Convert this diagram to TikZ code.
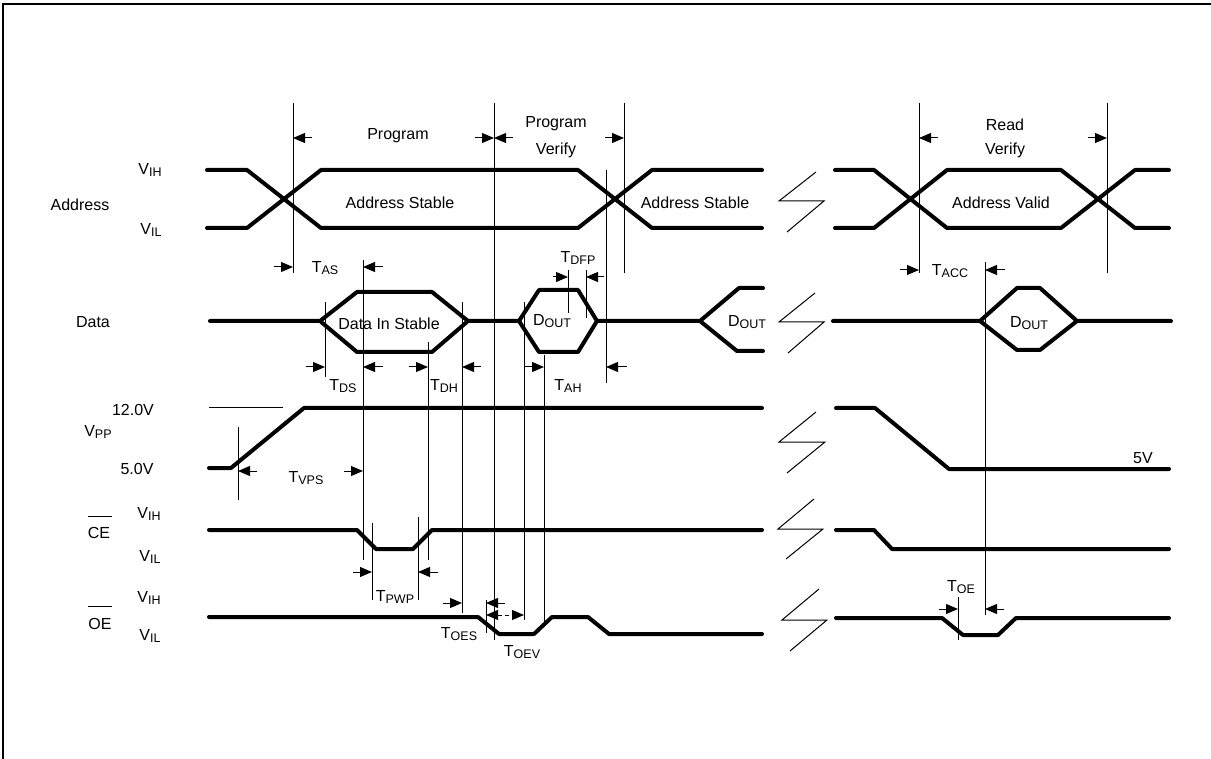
\documentclass[tikz,border=0pt]{standalone}
\usepackage{fontspec}
\setmainfont{Liberation Sans}
\usetikzlibrary{arrows.meta}
\newcommand\sbs[1]{\raisebox{-2.2pt}{\fontsize{12.5}{12.5}\selectfont #1}}
\begin{document}
\begin{tikzpicture}[x=1pt,y=-1pt,
  wave/.style={line width=4pt, line join=round, line cap=round},
  thinl/.style={line width=1pt},
  guide/.style={line width=0.9pt},
  tip/.style={-{Triangle[length=12pt,width=10pt]}, line width=1pt},
  dtip/.style={{Triangle[length=12pt,width=10pt]}-{Triangle[length=12pt,width=10pt]}, line width=1pt, dash pattern=on 4pt off 3pt},
  lbl/.style={font=\fontsize{16}{18}\selectfont, inner sep=0pt},
]
\useasboundingbox (0,0) rectangle (1211,759);
% frame
\draw[line width=2pt] (3,759) -- (3,4) -- (1211,4);

% ---------- Address ----------
\draw[wave] (207,170) -- (247,170) -- (321,228) -- (578,228) -- (652,170) -- (762,170);
\draw[wave] (207,228) -- (247,228) -- (321,170) -- (578,170) -- (652,228) -- (762,228);
\draw[wave] (835,170) -- (874,170) -- (947,228) -- (1061,228) -- (1135,170) -- (1169,170);
\draw[wave] (835,228) -- (874,228) -- (947,170) -- (1061,170) -- (1135,228) -- (1169,228);

% ---------- Data ----------
\draw[wave] (210,321) -- (320,321) -- (357,292) -- (432,292) -- (468,321) -- (519,321) -- (539,290) -- (578,290) -- (597,321) -- (700,321) -- (739,288) -- (763,288);
\draw[wave] (320,321) -- (357,352) -- (432,352) -- (468,321);
\draw[wave] (519,321) -- (539,352) -- (578,352) -- (597,321);
\draw[wave] (700,321) -- (737,351) -- (763,351);
\draw[wave] (833,321) -- (980,321) -- (1017,288) -- (1040,288) -- (1077,321) -- (1171,321);
\draw[wave] (980,321) -- (1017,350) -- (1040,350) -- (1077,321);

% ---------- Vpp ----------
\draw[thinl] (209,408) -- (283,408);
\draw[wave] (209,468) -- (231,468) -- (304,408) -- (762,408);
\draw[wave] (836,408) -- (875,408) -- (949,469) -- (1169,469);

% ---------- CE ----------
\draw[wave] (209,530) -- (357,530) -- (376,549) -- (413,549) -- (432,530) -- (762,530);
\draw[wave] (836,530) -- (874,530) -- (892,549) -- (1169,549);

% ---------- OE ----------
\draw[wave] (209,617) -- (478,617) -- (499,634) -- (534,634) -- (552,617) -- (588,617) -- (609,634) -- (762,634);
\draw[wave] (836,618) -- (942,618) -- (963,635) -- (998,635) -- (1016,618) -- (1169,618);

% ---------- break marks ----------
\draw[thinl] (816,172) -- (779,201) -- (824,201) -- (787,232);
\draw[thinl] (815,293) -- (779,322) -- (824,322) -- (788,353);
\draw[thinl] (816,412) -- (779,442) -- (825,442) -- (787,473);
\draw[thinl] (814,499) -- (778,529) -- (823,529) -- (786,559);
\draw[thinl] (819,589) -- (782,620) -- (827,620) -- (790,651);

% ---------- guide lines ----------
\draw[guide] (293,103) -- (293,273);
\draw[guide] (363,260) -- (363,560);
\draw[guide] (325,302) -- (325,377);
\draw[guide] (428,342) -- (428,560);
\draw[guide] (462,302) -- (462,613);
\draw[guide] (494,103) -- (494,640);
\draw[guide] (524,302) -- (524,620);
\draw[guide] (544,355) -- (544,625);
\draw[guide] (568,270) -- (568,313);
\draw[guide] (586,270) -- (586,318);
\draw[guide] (606,170) -- (606,383);
\draw[guide] (624,103) -- (624,273);
\draw[guide] (238,427) -- (238,500);
\draw[guide] (372,523) -- (372,600);
\draw[guide] (418,517) -- (418,600);
\draw[guide] (486,600) -- (486,633);
\draw[guide] (919,103) -- (919,273);
\draw[guide] (1107,103) -- (1107,273);
\draw[guide] (985,262) -- (985,615);
\draw[guide] (958,597) -- (958,640);

% ---------- arrows ----------
\draw[tip] (312,138) -- (293,138);
\draw[tip] (475,138) -- (494,138);
\draw[tip] (513,138) -- (494,138);
\draw[tip] (605,138) -- (624,138);
\draw[tip] (938,138) -- (919,138);
\draw[tip] (1088,138) -- (1107,138);
\draw[tip] (274,267) -- (293,267);
\draw[tip] (383,267) -- (363,267);
\draw[tip] (553,277) -- (568,277);
\draw[tip] (604,277) -- (586,277);
\draw[tip] (900,270) -- (919,270);
\draw[tip] (1005,270) -- (985,270);
\draw[tip] (306,367) -- (325,367);
\draw[tip] (383,367) -- (363,367);
\draw[tip] (409,367) -- (428,367);
\draw[tip] (481,367) -- (462,367);
\draw[tip] (525,367) -- (544,367);
\draw[tip] (627,367) -- (606,367);
\draw[tip] (257,471) -- (238,471);
\draw[tip] (344,471) -- (363,471);
\draw[tip] (353,572) -- (372,572);
\draw[tip] (438,572) -- (418,572);
\draw[tip] (443,603) -- (462,603);
\draw[tip] (505,603) -- (486,603);
\draw[dtip] (486,615) -- (524,615);
\draw[tip] (939,609) -- (958,609);
\draw[tip] (1004,609) -- (985,609);

% ---------- row labels ----------
\node[lbl] (addr) at (80,205) {Address};
\node[lbl] (avih) at (150,170) {V\sbs{IH}};
\node[lbl] (avil) at (151,230) {V\sbs{IL}};
\node[lbl] (data) at (93,322) {Data};
\node[lbl] (v12) at (133,410) {12.0V};
\node[lbl] (vpp) at (98,432) {V\sbs{PP}};
\node[lbl] (v5) at (137,469) {5.0V};
\node[lbl] (ce) at (99,533) {CE};
\draw[thinl] (88,516) -- (112,516);
\node[lbl] (cevih) at (149,514) {V\sbs{IH}};
\node[lbl] (cevil) at (150,557) {V\sbs{IL}};
\node[lbl] (oe) at (100,624) {OE};
\draw[thinl] (88,606) -- (112,606);
\node[lbl] (oevih) at (149,598) {V\sbs{IH}};
\node[lbl] (oevil) at (150,636) {V\sbs{IL}};

% ---------- timing labels ----------
\node[lbl] (prog) at (398,136) {Program};
\node[lbl] (pv1) at (556,124) {Program};
\node[lbl] (pv2) at (556,150) {Verify};
\node[lbl] (rv1) at (1005,125) {Read};
\node[lbl] (rv2) at (1005,150) {Verify};
\node[lbl] (as1) at (400,203) {Address Stable};
\node[lbl] (as2) at (695,203) {Address Stable};
\node[lbl] (av) at (1001,203) {Address Valid};
\node[lbl] (tas) at (325,268) {T\sbs{AS}};
\node[lbl] (tdfp) at (578,258) {T\sbs{DFP}};
\node[lbl] (tacc) at (950,271) {T\sbs{ACC}};
\node[lbl] (dis) at (389,324) {Data In Stable};
\node[lbl] (do1) at (552,321) {D\sbs{OUT}};
\node[lbl] (do2) at (747,322) {D\sbs{OUT}};
\node[lbl] (do3) at (1029,323) {D\sbs{OUT}};
\node[lbl] (tds) at (343,386) {T\sbs{DS}};
\node[lbl] (tdh) at (444,386) {T\sbs{DH}};
\node[lbl] (tah) at (568,386) {T\sbs{AH}};
\node[lbl] (tvps) at (306,478) {T\sbs{VPS}};
\node[lbl] (tpwp) at (395,597) {T\sbs{PWP}};
\node[lbl] (toes) at (459,634) {T\sbs{OES}};
\node[lbl] (toev) at (522,652) {T\sbs{OEV}};
\node[lbl] (toe) at (961,587) {T\sbs{OE}};
\node[lbl] (fivev) at (1143,458) {5V};
\end{tikzpicture}
\end{document}
